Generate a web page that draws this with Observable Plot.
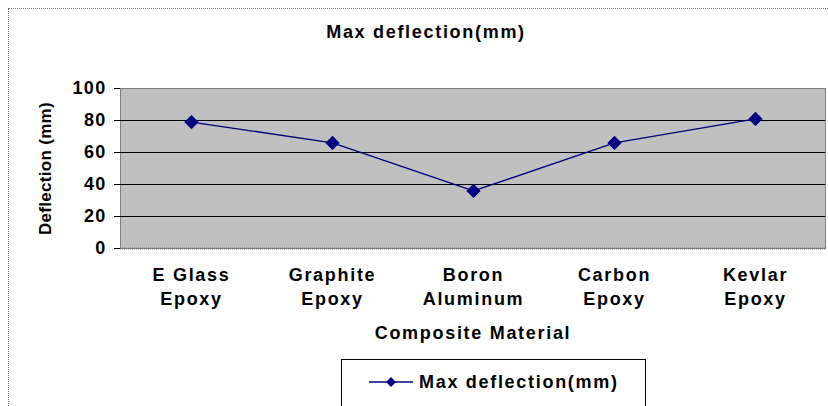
<!DOCTYPE html>
<html><head><meta charset="utf-8">
<script src="https://cdn.jsdelivr.net/npm/d3@7"></script>
<script src="https://cdn.jsdelivr.net/npm/@observablehq/plot@0.6"></script>
<style>
body{margin:0;background:#fff;font-family:"Liberation Sans",Arial,sans-serif;}
#wrap{position:relative;width:828px;height:406px;overflow:hidden;}
#border{position:absolute;left:8px;top:8px;width:900px;height:500px;border:1px dotted #777;box-sizing:border-box;}
#title{position:absolute;left:0;width:852px;top:22px;text-align:center;font-weight:bold;font-size:18px;letter-spacing:1.7px;}
#legend{position:absolute;left:341px;top:359px;width:305px;height:60px;border:1px solid #000;box-sizing:border-box;}
#legend svg{position:absolute;left:0;top:0;}
#chart{position:absolute;left:0;top:0;}
#chart g[aria-label="y-axis tick label"] text{letter-spacing:1.3px;}
#chart g[aria-label="x-axis tick label"] text,
#chart g[aria-label="x-axis label"] text{letter-spacing:1.7px;}
#chart g[aria-label="y-axis label"] text{letter-spacing:0.3px;font-size:17px;}
</style></head>
<body><div id="wrap"><div id="border"></div><div id="chart"></div><div id="title">Max deflection(mm)</div>
<div id="legend"><svg width="305" height="50"><line x1="27" x2="71" y1="22" y2="22" stroke="#000080" stroke-width="1.5"/><path d="M49,17L54,22L49,27L44,22Z" fill="#000080"/><text x="77" y="28" font-weight="bold" font-size="18" letter-spacing="1.7" font-family="Liberation Sans, Arial, sans-serif">Max deflection(mm)</text></svg></div>
</div>
<script>
const categories = ["E Glass\nEpoxy", "Graphite\nEpoxy", "Boron\nAluminum", "Carbon\nEpoxy", "Kevlar\nEpoxy"];
const values = [79, 66, 36, 66, 81];
const yTicks = [0, 20, 40, 60, 80, 100];
const gridValues = [20, 40, 60, 80];
const data = categories.map((c, i) => ({c, v: values[i]}));

const chart = Plot.plot({
  width: 828, height: 406,
  marginLeft: 120, marginRight: 3, marginTop: 88, marginBottom: 158,
  style: {fontFamily: "Liberation Sans, Arial, sans-serif", fontWeight: "bold", fontSize: "18px", color: "#000", background: "transparent"},
  x: {type: "point", domain: categories, padding: 0.5, label: null},
  y: {domain: [0, 100], label: null},
  marks: [
    Plot.frame({fill: "#c0c0c0", stroke: "#808080"}),
    Plot.ruleY(gridValues, {stroke: "#000", strokeWidth: 1}),
    Plot.ruleY([0], {stroke: "#777", strokeDasharray: "1,1", strokeWidth: 2}),
    Plot.ruleX([0], {x: () => null, frameAnchor: "left", stroke: "#000"}),
    Plot.axisY({ticks: yTicks, tickSize: 6, tickPadding: 8, fontSize: 18, fontWeight: "bold", label: "Deflection (mm)", labelAnchor: "center", labelArrow: "none", labelOffset: 82, fill: "#000"}),
    Plot.axisX({tickSize: 0, tickPadding: 15, fontSize: 18, fontWeight: "bold", lineHeight: 1.34, label: "Composite Material", labelAnchor: "center", labelArrow: "none", labelOffset: 90, fill: "#000"}),
    Plot.line(data, {x: "c", y: "v", stroke: "#000080", strokeWidth: 1.4}),
    Plot.dot(data, {x: "c", y: "v", symbol: "diamond2", r: 5.5, fill: "#000080", stroke: "#000080"})
  ]
});
document.getElementById("chart").appendChild(chart);
</script></body></html>
